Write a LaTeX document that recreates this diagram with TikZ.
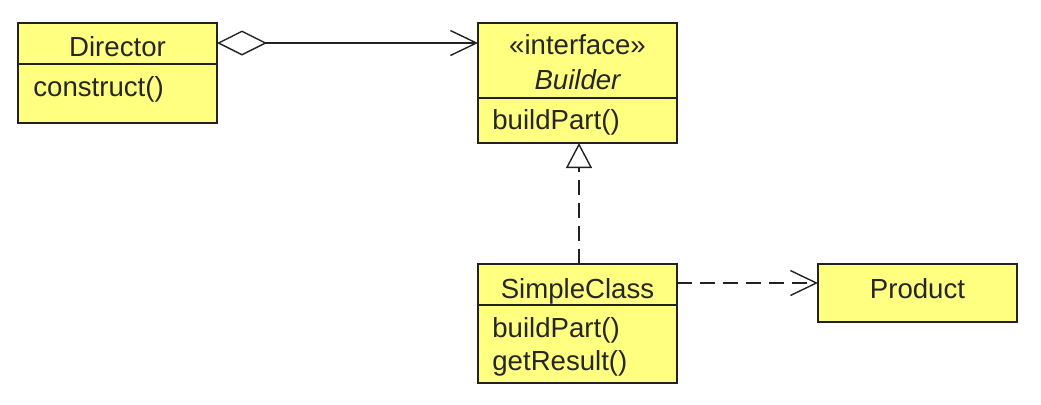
\documentclass[tikz,border=0pt]{standalone}
\usepackage{fontspec}
\setmainfont{Liberation Sans}
\usetikzlibrary{arrows.meta}
\definecolor{umlfill}{HTML}{FFFF80}
\definecolor{umlline}{HTML}{222222}
\begin{document}
\begin{tikzpicture}[x=0.5pt,y=-0.5pt,
  box/.style={draw=umlline, fill=umlfill, line width=0.8pt, minimum width=99.5pt, inner sep=0pt, outer sep=0pt, rectangle},
  divider/.style={draw=umlline, line width=0.8pt},
  txt/.style={inner sep=0pt, anchor=base, font=\fontsize{13.8}{16.5}\selectfont, text=black!85},
  conn/.style={draw=umlline, line width=0.7pt},
  dashedline/.style={dash pattern=on 7.5pt off 4pt}
]
\useasboundingbox (0,0) rectangle (1041,404);
% boxes
\node[box, minimum height=50pt] (dir) at (117.5,73) {};
\node[box, minimum height=60pt] (bld) at (577.5,83) {};
\node[box, minimum height=59.5pt] (sc) at (577.5,323.5) {};
\node[box, minimum height=29pt] (prod) at (917.5,293) {};
% dividers
\draw[divider] (dir.west |- 0,64) -- (dir.east |- 0,64);
\draw[divider] (bld.west |- 0,98) -- (bld.east |- 0,98);
\draw[divider] (sc.west |- 0,305) -- (sc.east |- 0,305);
% texts
\node[txt] (dirname) at (117.5,56) {Director};
\node[txt, anchor=base west] (dirop) at (33,96) {construct()};
\node[txt] (bldst) at (577.5,54.5) {«interface»};
\node[txt] (bldname) at (577.5,89) {\itshape Builder};
\node[txt, anchor=base west] (bldop) at (492,129) {buildPart()};
\node[txt] (scname) at (577.5,298) {SimpleClass};
\node[txt, anchor=base west] (scop1) at (492,337) {buildPart()};
\node[txt, anchor=base west] (scop2) at (492,370) {getResult()};
\node[txt] (prodname) at (917.5,298) {Product};
% connectors
\draw[conn, {Diamond[open, fill=white, length=25pt, width=12.5pt]}-{Straight Barb[length=13pt, width=12.5pt]}]
  (dir.east |- 0,43) -- (bld.west |- 0,43);
\draw[conn, dashedline, -{Triangle[open, fill=white, length=12.5pt, width=13pt]}]
  (sc.north -| 579,0) -- (bld.south -| 579,0);
\draw[conn, dashedline, -{Straight Barb[length=13pt, width=12.5pt]}]
  (sc.east |- 0,283) -- (prod.west |- 0,283);
\end{tikzpicture}
\end{document}
